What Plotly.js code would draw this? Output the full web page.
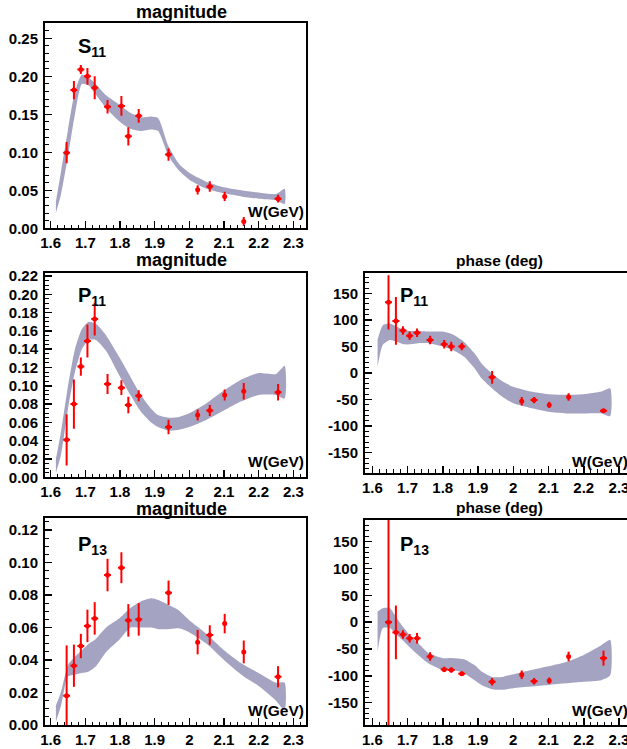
<!DOCTYPE html>
<html>
<head>
<meta charset="utf-8">
<script src="https://cdn.plot.ly/plotly-3.0.1.min.js"></script>
<style>html,body{margin:0;padding:0;background:#fff;}#chart{width:627px;height:749px;}</style>
</head>
<body>
<div id="chart"></div>
<script>
// ---- data points (W in GeV) ----
const W = [1.646, 1.667, 1.687, 1.706, 1.727, 1.764, 1.804, 1.824, 1.854, 1.940, 2.024, 2.059, 2.102, 2.157, 2.256];
const Werr = [0.01, 0.01, 0.01, 0.01, 0.01, 0.01, 0.01, 0.01, 0.01, 0.01, 0.004, 0.01, 0.004, 0.004, 0.01];

const S11mag    = [0.0995, 0.182, 0.209, 0.200, 0.185, 0.160, 0.161, 0.121, 0.148, 0.097, 0.0506, 0.055, 0.042, 0.009, 0.039];
const S11magErr = [0.014, 0.012, 0.006, 0.011, 0.015, 0.009, 0.013, 0.012, 0.009, 0.008, 0.006, 0.007, 0.006, 0.006, 0.005];

const P11mag    = [0.041, 0.080, 0.121, 0.149, 0.173, 0.102, 0.098, 0.079, 0.089, 0.055, 0.068, 0.073, 0.090, 0.094, 0.093];
const P11magErr = [0.028, 0.027, 0.010, 0.018, 0.018, 0.011, 0.008, 0.009, 0.006, 0.008, 0.006, 0.006, 0.006, 0.009, 0.009];

const P11ph    = [133, 98, 80, 70, 76, 62, 54, 50, 50, -8, -53, -51, -60, -45, -71];
const P11phErr = [51, 45, 8, 8, 8, 8, 8, 9, 7, 12, 8, 6, 6, 7, 3];

const P13mag    = [0.018, 0.0365, 0.0486, 0.061, 0.0656, 0.0923, 0.0968, 0.0644, 0.065, 0.0814, 0.051, 0.0554, 0.0624, 0.045, 0.0297];
const P13magErr = [0.031, 0.013, 0.0075, 0.010, 0.010, 0.010, 0.0095, 0.010, 0.010, 0.0075, 0.0075, 0.006, 0.006, 0.007, 0.0065];

const P13ph    = [0, -19, -23, -30, -30, -64, -88, -89, -96, -111, -98, -110, -109, -64, -67];
const P13phErr = [300, 50, 8, 8, 10, 8, 5, 5, 4, 7, 8, 6, 6, 9, 14];

// ---- model bands (upper / lower edges) ----
const Wband = [1.615, 1.63, 1.65, 1.67, 1.69, 1.71, 1.73, 1.76, 1.80, 1.83, 1.86, 1.89, 1.91, 1.94, 1.97, 2.00, 2.05, 2.10, 2.15, 2.20, 2.25, 2.275];

const S11magHi = [0.035, 0.075, 0.13, 0.18, 0.202, 0.198, 0.19, 0.175, 0.162, 0.152, 0.146, 0.147, 0.145, 0.108, 0.085, 0.073, 0.061, 0.054, 0.050, 0.047, 0.045, 0.052];
const S11magLo = [0.020, 0.045, 0.095, 0.15, 0.19, 0.188, 0.176, 0.158, 0.140, 0.131, 0.128, 0.130, 0.128, 0.095, 0.076, 0.064, 0.052, 0.046, 0.042, 0.039, 0.037, 0.032];

const P11magHi = [0.020, 0.050, 0.100, 0.140, 0.162, 0.170, 0.168, 0.155, 0.130, 0.110, 0.090, 0.075, 0.068, 0.065, 0.066, 0.070, 0.081, 0.095, 0.107, 0.114, 0.113, 0.122];
const P11magLo = [0.005, 0.025, 0.075, 0.115, 0.140, 0.150, 0.150, 0.138, 0.110, 0.090, 0.072, 0.060, 0.055, 0.051, 0.052, 0.055, 0.063, 0.073, 0.083, 0.090, 0.090, 0.086];

const P11phHi = [63, 90, 93, 87, 81, 79, 79, 78, 78, 72, 59, 37, 18, -1, -16, -26, -35, -40, -41, -40, -35, -29];
const P11phLo = [12, 53, 62, 59, 54, 54, 56, 56, 50, 43, 31, 9, -10, -29, -45, -57, -66, -73, -76, -76, -76, -81];

const P13magHi = [0.012, 0.0205, 0.037, 0.042, 0.046, 0.050, 0.053, 0.060, 0.066, 0.072, 0.076, 0.078, 0.077, 0.074, 0.0705, 0.0645, 0.056, 0.046, 0.038, 0.032, 0.026, 0.026];
const P13magLo = [0.002, 0.012, 0.030, 0.031, 0.032, 0.033, 0.036, 0.045, 0.053, 0.060, 0.060, 0.060, 0.059, 0.059, 0.0595, 0.057, 0.050, 0.040, 0.031, 0.024, 0.015, 0.009];

const P13phHi = [20, 26, 26, 7, -11, -27, -39, -58, -67, -67, -69, -80, -92, -102, -102, -97, -89, -82, -74, -61, -43, -33];
const P13phLo = [-55, -11, -11, -24, -36, -49, -61, -77, -89, -89, -95, -108, -117, -125, -126, -123, -120, -117, -114, -111, -108, -99];

// ---- labels ----
const xTitle = 'W(GeV)';
const magTitle = 'magnitude';
const phaseTitle = 'phase (deg)';
const phaseTickVals = [-150, -100, -50, 0, 50, 100, 150];
const phaseTickText = ['-150', '-100', '-50', '0', '50', '100', '150'];

// ---- build ----
const FONT = 'Liberation Sans, Arial, Helvetica, sans-serif';
const BAND = 'rgb(164,164,194)';
const RED = '#ff0000';

function band(hi, lo, xa, ya) {
  const xs = Wband.concat(Wband.slice().reverse());
  const ys = hi.concat(lo.slice().reverse());
  return {x: xs, y: ys, xaxis: xa, yaxis: ya, type: 'scatter', mode: 'lines',
    fill: 'toself', fillcolor: BAND, line: {width: 0, color: BAND, shape: 'spline', smoothing: 0.6},
    hoverinfo: 'skip', showlegend: false};
}
function pts(y, ey, xa, ya) {
  return {x: W, y: y, xaxis: xa, yaxis: ya, type: 'scatter', mode: 'markers',
    marker: {color: RED, size: 5},
    error_y: {type: 'data', array: ey, visible: true, color: RED, thickness: 2, width: 0},
    error_x: {type: 'data', array: Werr, visible: true, color: RED, thickness: 2, width: 0},
    cliponaxis: true, showlegend: false};
}

const data = [
  band(S11magHi, S11magLo, 'x', 'y'),   pts(S11mag, S11magErr, 'x', 'y'),
  band(P11magHi, P11magLo, 'x2', 'y2'), pts(P11mag, P11magErr, 'x2', 'y2'),
  band(P11phHi, P11phLo, 'x3', 'y3'),   pts(P11ph, P11phErr, 'x3', 'y3'),
  band(P13magHi, P13magLo, 'x4', 'y4'), pts(P13mag, P13magErr, 'x4', 'y4'),
  band(P13phHi, P13phLo, 'x5', 'y5'),   pts(P13ph, P13phErr, 'x5', 'y5')
];

const PW = 627, PH = 749;
const px = v => v / PW;
const py = v => 1 - v / PH;

function xax(l, r, range, anchor) {
  return {domain: [px(l), Math.min(1, px(r))], range: range, anchor: anchor,
    showgrid: false, zeroline: false, showline: true, linecolor: 'black', linewidth: 2, mirror: true,
    ticks: 'inside', ticklen: 7, tickwidth: 1.5, tickcolor: 'black', dtick: 0.1, tick0: 1.6,
    ticklabeloverflow: 'allow',
    tickfont: {family: FONT, size: 15, color: 'black', weight: 700},
    minor: {ticks: 'inside', ticklen: 3.5, tickwidth: 1, tickcolor: 'black', dtick: 0.02}};
}
function yax(t, b, range, anchor, dtick, minor, fmt, mirror) {
  return {domain: [py(b), py(t)], range: range, anchor: anchor,
    showgrid: false, zeroline: false, showline: true, linecolor: 'black', linewidth: 2, mirror: mirror,
    ticks: 'inside', ticklen: 7, tickwidth: 1.5, tickcolor: 'black', dtick: dtick, tick0: 0,
    tickformat: fmt, ticklabelstandoff: 2,
    tickfont: {family: FONT, size: 15, color: 'black', weight: 700},
    minor: {ticks: 'inside', ticklen: 3.5, tickwidth: 1, tickcolor: 'black', dtick: minor}};
}

const xL = [1.5836, 2.3366], xR = [1.5793, 2.3227];
const layout = {
  width: PW, height: PH, margin: {l: 0, r: 0, t: 0, b: 0},
  paper_bgcolor: 'white', plot_bgcolor: 'white', showlegend: false,
  xaxis:  xax(45, 306, xL, 'y'),
  yaxis:  yax(22.7, 228.3, [0, 0.2706], 'x', 0.05, 0.01, '.2f', true),
  xaxis2: xax(45, 306, xL, 'y2'),
  yaxis2: yax(272.7, 477.3, [0, 0.2236], 'x2', 0.02, 0.005, '.2f', true),
  xaxis3: xax(365, 627, xR, 'y3'),
  yaxis3: Object.assign(yax(272.7, 472.7, [-187.6, 188.8], 'x3', 50, 10, '', false), {tickmode: 'array', tickvals: phaseTickVals, ticktext: phaseTickText}),
  xaxis4: xax(45, 306, xL, 'y4'),
  yaxis4: yax(518, 725, [0, 0.1274], 'x4', 0.02, 0.005, '.2f', true),
  xaxis5: xax(365, 627, xR, 'y5'),
  yaxis5: Object.assign(yax(520, 725, [-191.6, 190.4], 'x5', 50, 10, '', false), {tickmode: 'array', tickvals: phaseTickVals, ticktext: phaseTickText}),
  annotations: []
};

function ann(text, x, y, size, xanchor, yanchor) {
  return {text: text, xref: 'paper', yref: 'paper', x: px(x), y: py(y), showarrow: false,
    xanchor: xanchor, yanchor: yanchor, font: {family: FONT, size: size, color: 'black', weight: 700}};
}
// panel titles
layout.annotations.push(ann(magTitle, 181, 11.7, 18, 'center', 'middle'));
layout.annotations.push(ann(magTitle, 181, 260, 18, 'center', 'middle'));
layout.annotations.push(ann(phaseTitle, 499, 261, 15.5, 'center', 'middle'));
layout.annotations.push(ann(magTitle, 181, 508.5, 18, 'center', 'middle'));
layout.annotations.push(ann(phaseTitle, 499, 507.5, 15.5, 'center', 'middle'));
// axis titles at the right end
layout.annotations.push(ann(xTitle, 306, 211, 15.5, 'right', 'middle'));
layout.annotations.push(ann(xTitle, 306, 461, 15.5, 'right', 'middle'));
layout.annotations.push(ann(xTitle, 630, 461, 15.5, 'right', 'middle'));
layout.annotations.push(ann(xTitle, 306, 710, 15.5, 'right', 'middle'));
layout.annotations.push(ann(xTitle, 630, 710, 15.5, 'right', 'middle'));
// wave labels
layout.annotations.push(ann('S<sub>11</sub>', 76, 48, 20, 'left', 'middle'));
layout.annotations.push(ann('P<sub>11</sub>', 76, 296, 20, 'left', 'middle'));
layout.annotations.push(ann('P<sub>11</sub>', 398, 296, 20, 'left', 'middle'));
layout.annotations.push(ann('P<sub>13</sub>', 76, 545, 20, 'left', 'middle'));
layout.annotations.push(ann('P<sub>13</sub>', 398, 545, 20, 'left', 'middle'));

Plotly.newPlot('chart', data, layout, {staticPlot: true, displayModeBar: false});
</script>
</body>
</html>
